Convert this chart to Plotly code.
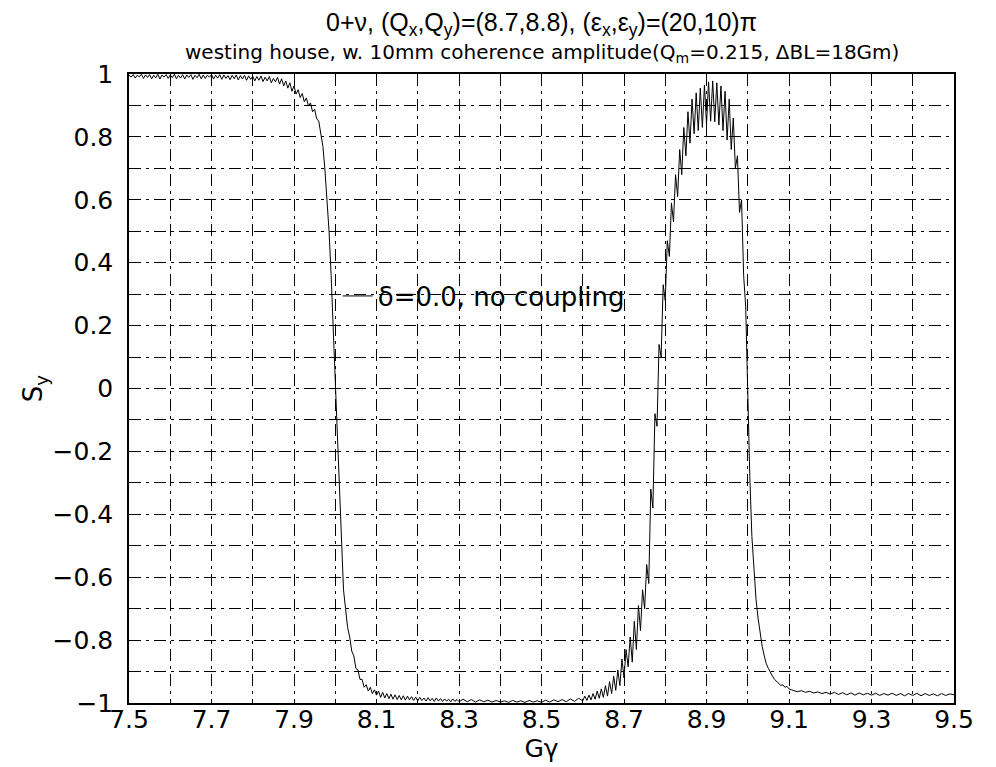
import plotly.graph_objects as go

# ---------------- data ----------------
# segment 1: plateau near +1
gg_1 = [7.500, 7.505, 7.510, 7.515, 7.520, 7.525, 7.530, 7.535, 7.540, 7.545,
        7.550, 7.555, 7.560, 7.565, 7.570, 7.575, 7.580, 7.585, 7.590, 7.595,
        7.600, 7.605, 7.610, 7.615, 7.620, 7.625, 7.630, 7.635, 7.640, 7.645,
        7.650, 7.655, 7.660, 7.665, 7.670, 7.675, 7.680, 7.685, 7.690, 7.695,
        7.700, 7.705, 7.710, 7.715, 7.720, 7.725, 7.730, 7.735, 7.740, 7.745,
        7.750, 7.755, 7.760, 7.765, 7.770, 7.775, 7.780, 7.785, 7.790, 7.795,
        7.800, 7.805, 7.810, 7.815, 7.820, 7.825, 7.830, 7.835, 7.840, 7.845,
        7.850, 7.855, 7.860, 7.865]
sy_1 = [0.997, 0.990, 0.998, 0.987, 0.996, 0.991, 0.999, 0.986, 0.997, 0.989,
        0.998, 0.985, 0.996, 0.988, 0.999, 0.984, 0.997, 0.990, 0.998, 0.986,
        0.997, 0.988, 0.999, 0.985, 0.996, 0.987, 0.998, 0.984, 0.997, 0.989,
        0.998, 0.983, 0.996, 0.988, 0.999, 0.985, 0.997, 0.986, 0.996, 0.990,
        0.998, 0.984, 0.996, 0.987, 0.998, 0.983, 0.997, 0.986, 0.995, 0.982,
        0.996, 0.985, 0.997, 0.981, 0.995, 0.984, 0.996, 0.980, 0.994, 0.983,
        0.993, 0.978, 0.992, 0.980, 0.994, 0.976, 0.990, 0.978, 0.992, 0.972,
        0.986, 0.975, 0.989, 0.968]

# segment 2: first crossing, +1 -> -1
gg_2 = [7.870, 7.875, 7.880, 7.885, 7.890, 7.895, 7.900, 7.905, 7.910, 7.915,
        7.920, 7.925, 7.930, 7.935, 7.940, 7.945, 7.950, 7.955, 7.960, 7.965,
        7.970, 7.975, 7.980, 7.985, 7.990, 7.995, 8.000, 8.005, 8.010, 8.015,
        8.020, 8.025, 8.030, 8.035, 8.040, 8.045, 8.050, 8.055, 8.060, 8.065,
        8.070, 8.075, 8.080, 8.085, 8.090, 8.095, 8.100]
sy_2 = [0.985, 0.962, 0.978, 0.955, 0.972, 0.945, 0.962, 0.936, 0.950, 0.925,
        0.938, 0.912, 0.924, 0.898, 0.908, 0.880, 0.888, 0.858, 0.850, 0.805,
        0.770, 0.695, 0.610, 0.500, 0.360, 0.190, 0.030, -0.150, -0.320, -0.500,
        -0.640, -0.700, -0.760, -0.790, -0.835, -0.850, -0.890, -0.895, -0.925, -0.925,
        -0.950, -0.942, -0.962, -0.950, -0.970, -0.958, -0.975]

# segment 3: floor near -1
gg_3 = [8.105, 8.110, 8.115, 8.120, 8.125, 8.130, 8.135, 8.140, 8.145, 8.150,
        8.155, 8.160, 8.165, 8.170, 8.175, 8.180, 8.185, 8.190, 8.195, 8.200,
        8.205, 8.210, 8.215, 8.220, 8.225, 8.230, 8.235, 8.240, 8.245, 8.250,
        8.255, 8.260, 8.265, 8.270, 8.275, 8.280, 8.285, 8.290, 8.295, 8.300]
sy_3 = [-0.962, -0.982, -0.966, -0.984, -0.970, -0.986, -0.972, -0.988, -0.974, -0.989,
        -0.976, -0.990, -0.977, -0.991, -0.978, -0.990, -0.980, -0.992, -0.981, -0.993,
        -0.982, -0.992, -0.984, -0.994, -0.983, -0.993, -0.985, -0.995, -0.984, -0.994,
        -0.986, -0.995, -0.987, -0.994, -0.988, -0.996, -0.987, -0.995, -0.989, -0.996]

gg_4 = [8.31, 8.32, 8.33, 8.34, 8.35, 8.36, 8.37, 8.38, 8.39, 8.40,
        8.41, 8.42, 8.43, 8.44, 8.45, 8.46, 8.47, 8.48, 8.49, 8.50,
        8.51, 8.52, 8.53, 8.54, 8.55, 8.56, 8.57, 8.58, 8.59, 8.60]
sy_4 = [-0.988, -0.996, -0.989, -0.997, -0.990, -0.996, -0.991, -0.997, -0.992, -0.997,
        -0.993, -0.998, -0.992, -0.997, -0.993, -0.998, -0.992, -0.997, -0.993, -0.998,
        -0.991, -0.997, -0.990, -0.996, -0.989, -0.996, -0.987, -0.995, -0.985, -0.993]

# segment 5: oscillating rise
gg_5 = [8.605, 8.610, 8.615, 8.620, 8.625, 8.630, 8.635, 8.640, 8.645, 8.650,
        8.655, 8.660, 8.665, 8.670, 8.675, 8.680, 8.685, 8.690, 8.695, 8.700,
        8.705, 8.710, 8.715, 8.720, 8.725, 8.730, 8.735, 8.740, 8.745, 8.750,
        8.755]
sy_5 = [-0.978, -0.992, -0.975, -0.990, -0.970, -0.988, -0.962, -0.985, -0.955, -0.982,
        -0.945, -0.978, -0.932, -0.970, -0.915, -0.960, -0.895, -0.945, -0.860, -0.920,
        -0.830, -0.885, -0.790, -0.870, -0.740, -0.830, -0.690, -0.770, -0.640, -0.700,
        -0.560]

gg_6 = [8.760, 8.765, 8.770, 8.775, 8.780, 8.785, 8.790, 8.795, 8.800, 8.805,
        8.810, 8.815, 8.820, 8.825, 8.830, 8.835, 8.840, 8.845, 8.850, 8.855,
        8.860, 8.865, 8.870, 8.875, 8.880]
sy_6 = [-0.620, -0.320, -0.380, -0.080, -0.120, 0.140, 0.100, 0.330, 0.280, 0.470,
        0.420, 0.590, 0.530, 0.680, 0.610, 0.760, 0.680, 0.830, 0.740, 0.880,
        0.780, 0.920, 0.810, 0.940, 0.820]

# segment 7: peak and second crossing
gg_7 = [8.885, 8.890, 8.895, 8.900, 8.905, 8.910, 8.915, 8.920, 8.925, 8.930,
        8.935, 8.940, 8.945, 8.950, 8.955, 8.960, 8.965, 8.970, 8.975, 8.980,
        8.985, 8.990, 8.995, 9.000, 9.005, 9.010, 9.015, 9.020, 9.025, 9.030,
        9.035, 9.040, 9.045, 9.050, 9.055, 9.060, 9.065, 9.070, 9.075, 9.080,
        9.085, 9.090, 9.095, 9.100]
sy_7 = [0.955, 0.830, 0.965, 0.840, 0.975, 0.850, 0.978, 0.848, 0.972, 0.838,
        0.962, 0.820, 0.945, 0.790, 0.920, 0.760, 0.860, 0.700, 0.740, 0.560,
        0.600, 0.360, 0.260, -0.050, -0.280, -0.470, -0.580, -0.670, -0.730, -0.780,
        -0.820, -0.850, -0.875, -0.890, -0.905, -0.915, -0.925, -0.932, -0.938, -0.944,
        -0.942, -0.950, -0.947, -0.955]

# segment 8: tail
gg_8 = [9.11, 9.12, 9.13, 9.14, 9.15, 9.16, 9.17, 9.18, 9.19, 9.20,
        9.21, 9.22, 9.23, 9.24, 9.25, 9.26, 9.27, 9.28, 9.29, 9.30,
        9.31, 9.32, 9.33, 9.34, 9.35, 9.36, 9.37, 9.38, 9.39, 9.40,
        9.41, 9.42, 9.43, 9.44, 9.45, 9.46, 9.47, 9.48, 9.49, 9.50]
sy_8 = [-0.960, -0.964, -0.961, -0.966, -0.963, -0.968, -0.965, -0.970, -0.966, -0.972,
        -0.966, -0.973, -0.967, -0.974, -0.968, -0.975, -0.968, -0.974, -0.969, -0.975,
        -0.969, -0.976, -0.970, -0.975, -0.969, -0.976, -0.970, -0.977, -0.970, -0.976,
        -0.969, -0.977, -0.970, -0.976, -0.971, -0.977, -0.970, -0.976, -0.971, -0.974]

x_tick_vals = [7.5, 7.6, 7.7, 7.8, 7.9, 8.0, 8.1, 8.2, 8.3, 8.4, 8.5,
               8.6, 8.7, 8.8, 8.9, 9.0, 9.1, 9.2, 9.3, 9.4, 9.5]
x_tick_text = ["7.5", "", "7.7", "", "7.9", "", "8.1", "", "8.3", "", "8.5",
               "", "8.7", "", "8.9", "", "9.1", "", "9.3", "", "9.5"]
y_tick_vals = [-1.0, -0.9, -0.8, -0.7, -0.6, -0.5, -0.4, -0.3, -0.2, -0.1, 0.0,
               0.1, 0.2, 0.3, 0.4, 0.5, 0.6, 0.7, 0.8, 0.9, 1.0]
y_tick_text = ["\u22121", "", "\u22120.8", "", "\u22120.6", "", "\u22120.4", "", "\u22120.2", "", "0",
               "", "0.2", "", "0.4", "", "0.6", "", "0.8", "", "1"]

series_name = "\u03b4=0.0, no coupling"
title_main = ("0+\u03bd, (Q<sub>x</sub>,Q<sub>y</sub>)=(8.7,8.8), "
              "(\u03b5<sub>x</sub>,\u03b5<sub>y</sub>)=(20,10)\u03c0")
title_sub = "westing house, w. 10mm coherence amplitude(Q<sub>m</sub>=0.215, \u0394BL=18Gm)"

# ---------------- figure ----------------
gg = gg_1 + gg_2 + gg_3 + gg_4 + gg_5 + gg_6 + gg_7 + gg_8
sy = sy_1 + sy_2 + sy_3 + sy_4 + sy_5 + sy_6 + sy_7 + sy_8

FONT = "DejaVu Sans, Liberation Sans, Arial, sans-serif"
TITLEFONT = "Liberation Sans, Arial, sans-serif"
GRIDDASH = "12px,5px,3px,5px"

fig = go.Figure()
fig.add_trace(go.Scatter(x=gg, y=sy, mode="lines", name=series_name,
                         line=dict(color="black", width=1)))

# the page body adds an 8px margin, so the figure is 8px smaller than the window
fig.update_layout(
    width=988, height=759,
    margin=dict(l=121, r=42, t=66, b=64),
    paper_bgcolor="white", plot_bgcolor="white",
    font=dict(family=FONT, size=25, color="black"),
    showlegend=True,
    legend=dict(x=0.253, y=0.647, xanchor="left", yanchor="middle",
                bgcolor="rgba(0,0,0,0)", borderwidth=0,
                font=dict(family=FONT, size=26, color="black")),
    xaxis=dict(range=[7.5, 9.5], tickmode="array", tickvals=x_tick_vals,
               ticktext=x_tick_text, ticks="", ticklen=0, showgrid=True, gridcolor="black",
               gridwidth=1, griddash=GRIDDASH, zeroline=False, showline=True,
               linecolor="black", linewidth=1.5, mirror=True,
               ticklabelstandoff=-7,
               tickfont=dict(family=FONT, size=25),
               title=dict(text="G\u03b3", font=dict(family=FONT, size=25), standoff=0)),
    yaxis=dict(range=[-1, 1], tickmode="array", tickvals=y_tick_vals,
               ticktext=y_tick_text, ticks="", ticklen=0, showgrid=True, gridcolor="black",
               gridwidth=1, griddash=GRIDDASH, zeroline=False, showline=True,
               linecolor="black", linewidth=1.5, mirror=True,
               ticklabelstandoff=9,
               tickfont=dict(family=FONT, size=25),
               title=dict(text="S<sub>y</sub>", font=dict(family=FONT, size=26), standoff=2)),
    annotations=[
        dict(text=title_main, x=0.5, y=1, xref="paper", yref="paper",
             xanchor="center", yanchor="middle", yshift=50, showarrow=False,
             font=dict(family=TITLEFONT, size=25, color="black")),
        dict(text=title_sub, x=0.5, y=1, xref="paper", yref="paper",
             xanchor="center", yanchor="middle", yshift=21, showarrow=False,
             font=dict(family=FONT, size=20, color="black")),
    ],
)

fig.write_html("out.html")
